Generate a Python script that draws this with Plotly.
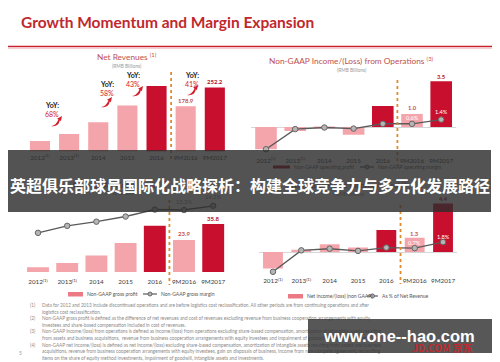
import plotly.graph_objects as go

W, H = 500, 362
def X(p): return p / W
def Y(p): return 1 - p / H

# ---------------- data ----------------
categories = ["2012", "2013", "2014", "2015", "2016", "9M2016", "9M2017"]
tick_labels = ["2012<sup>(1)</sup>", "2013<sup>(1)</sup>", "2014", "2015", "2016", "9M2016", "9M2017"]
highlight = ["2016", "9M2017"]

net_revenues = [41.4, 69.3, 114.9, 181.0, 258.3, 178.9, 252.2]
yoy_growth = ["68%", "58%", "43%", "41%"]

op_income = [-1.7, -0.3, -0.1, -0.6, 1.6, 1.0, 3.5]
op_margin = [-4.2, -0.4, -0.1, -0.3, 0.6, 0.6, 1.4]

gross_profit = [3.5, 6.8, 12.4, 21.6, 34.6, 23.9, 35.8]
gross_margin = [8.4, 9.9, 10.8, 11.9, 13.4, 13.3, 14.2]

net_income = [-1.5, 0.2, 0.7, 0.4, 2.0, 1.3, 4.4]
net_margin = [-3.6, 0.3, 0.6, 0.2, 0.8, 0.7, 1.8]

footnotes = [
    ("(1)", "Data for 2012 and 2013 include discontinued operations and are before logistics cost reclassification. All other periods are from continuing operations and after"),
    ("", "logistics cost reclassification."),
    ("(2)", "Non-GAAP gross profit is defined as the difference of net revenues and cost of revenues excluding revenue from business cooperation arrangements with equity"),
    ("", "investees and share-based compensation included in cost of revenues."),
    ("(3)", "Non-GAAP income/(loss) from operations is defined as income/(loss) from operations excluding share-based compensation, amortization of intangible assets resulting"),
    ("", "from assets and business acquisitions,  revenue from business cooperation arrangements with equity investees and impairment of goodwill and intangible assets."),
    ("(4)", "Non-GAAP net income/(loss) is defined as net income/(loss) excluding share-based compensation, amortization of intangible assets resulting from assets and business"),
    ("", "acquisitions, revenue from business cooperation arrangements with equity investees, gain on disposals of business, income from non-compete agreement, reconciling"),
    ("", "items on the share of equity method investments, impairment of goodwill, intangible assets and investments."),
]

banner_text = "英超俱乐部球员国际化战略探析：构建全球竞争力与多元化发展路径"
watermark_text = "www.one--hao.com"

# ---------------- styles ----------------
PINK = "#f4a4ab"
RED = "#c8102e"
LBL_RED = "#c0504d"
FONT = "Lato"

def fmt(v):
    return f"({abs(v):.1f})" if v < 0 else f"{v:.1f}"
def fmtp(v):
    return f"({abs(v):.1f})%" if v < 0 else f"{v:.1f}%"

def bar_colors():
    return [RED if c in highlight else PINK for c in categories]

def ydom(zero, s, lo, hi):
    return [Y(zero - lo * s), Y(zero - hi * s)]

def xax(x0, x1, anchor, standoff):
    return dict(domain=[X(x0), X(x1)], range=[-0.5, 6.5], type="category",
                categoryorder="array", categoryarray=categories,
                tickmode="array", tickvals=categories, ticktext=tick_labels,
                showgrid=False, zeroline=False, showline=False, ticks="",
                tickfont=dict(size=6.3, color="#3c3c3c", family=FONT),
                anchor=anchor, ticklabelstandoff=standoff, fixedrange=True)

def yax(dom, rng, anchor, zl=False):
    return dict(domain=dom, range=rng, showgrid=False, showticklabels=False, ticks="",
                showline=False, zeroline=zl, zerolinecolor="#d6d6d6", zerolinewidth=1,
                anchor=anchor, fixedrange=True)

TL = dict(zero=151.5, s=0.2536, lo=0, hi=300)
TR = dict(zero=127, s=13.1, lo=-2, hi=4, s2=5.3)
BL = dict(zero=272, s=1.34, lo=0, hi=55, s2=4.66)
BR = dict(zero=252, s=11.0, lo=-2, hi=5, s2=5.5)

layout = dict(
    width=W, height=H, margin=dict(l=0, r=0, t=0, b=0),
    paper_bgcolor="white", plot_bgcolor="rgba(0,0,0,0)", showlegend=False,
    font=dict(family=FONT),
    xaxis=xax(25.4, 229.4, "y", 1),
    yaxis=yax(ydom(TL["zero"], TL["s"], TL["lo"], TL["hi"]), [TL["lo"], TL["hi"]], "x"),
    xaxis2=xax(251.4, 455.8, "y2", 2),
    yaxis2=yax(ydom(TR["zero"], TR["s"], TR["lo"], TR["hi"]), [TR["lo"], TR["hi"]], "x2", True),
    xaxis3=xax(23.4, 227.8, "y3", 5),
    yaxis3=yax(ydom(BL["zero"], BL["s"], BL["lo"], BL["hi"]), [BL["lo"], BL["hi"]], "x3"),
    xaxis4=xax(258.8, 457.2, "y4", 2),
    yaxis4=yax(ydom(BR["zero"], BR["s"], BR["lo"], BR["hi"]), [BR["lo"], BR["hi"]], "x4", True),
    yaxis5=dict(overlaying="y2", anchor="x2", visible=False, fixedrange=True,
                range=[TR["lo"] * TR["s"] / TR["s2"], TR["hi"] * TR["s"] / TR["s2"]]),
    yaxis6=dict(overlaying="y3", anchor="x3", visible=False, fixedrange=True,
                range=[BL["lo"] * BL["s"] / BL["s2"], BL["hi"] * BL["s"] / BL["s2"]]),
    yaxis7=dict(overlaying="y4", anchor="x4", visible=False, fixedrange=True,
                range=[BR["lo"] * BR["s"] / BR["s2"], BR["hi"] * BR["s"] / BR["s2"]]),
)

fig = go.Figure(layout=layout)

def add_bar(vals, xa, ya, width):
    fig.add_trace(go.Bar(x=categories, y=vals, marker=dict(color=bar_colors(), line=dict(width=0)),
                         width=width, xaxis=xa, yaxis=ya, hoverinfo="skip"))

def add_line(vals, xa, ya):
    fig.add_trace(go.Scatter(x=categories, y=vals, mode="lines+markers", xaxis=xa, yaxis=ya,
                             line=dict(color="#5a5a5a", width=1.4),
                             marker=dict(size=5.5, color="#b5b5b5", line=dict(color="#666666", width=1)),
                             cliponaxis=False, hoverinfo="skip"))

add_bar(net_revenues, "x", "y", 0.69)
add_bar(op_income, "x2", "y2", 0.74)
add_line(op_margin, "x2", "y5")
add_bar(gross_profit, "x3", "y3", 0.75)
add_line(gross_margin, "x3", "y6")
add_bar(net_income, "x4", "y4", 0.7)
add_line(net_margin, "x4", "y7")

annotations = []
shapes = []

def text_px(x, y, text, size=6, color="#444", xanchor="center", family=FONT, bold=False):
    annotations.append(dict(x=X(x), y=Y(y), xref="paper", yref="paper",
                            text=f"<b>{text}</b>" if bold else text, showarrow=False,
                            xanchor=xanchor, yanchor="middle",
                            font=dict(size=size, color=color, family=family)))

def text_data(xa, ya, x, y, text, shift, size, color, bold=False):
    annotations.append(dict(x=x, y=y, xref=xa, yref=ya, yshift=shift, showarrow=False,
                            text=f"<b>{text}</b>" if bold else text,
                            xanchor="center", yanchor="middle",
                            font=dict(size=size, color=color, family=FONT)))

def line_px(x0, y0, x1, y1, color, width, dash="solid"):
    shapes.append(dict(type="line", xref="paper", yref="paper", x0=X(x0), y0=Y(y0), x1=X(x1), y1=Y(y1),
                       line=dict(color=color, width=width, dash=dash), layer="above"))

def rect_px(x0, y0, x1, y1, color):
    shapes.append(dict(type="rect", xref="paper", yref="paper", x0=X(x0), y0=Y(y0), x1=X(x1), y1=Y(y1),
                       fillcolor=color, line=dict(width=0), layer="above"))

def circle_px(cx, cy, r, fill, edge):
    shapes.append(dict(type="circle", xref="paper", yref="paper", x0=X(cx - r), y0=Y(cy + r),
                       x1=X(cx + r), y1=Y(cy - r), fillcolor=fill, line=dict(color=edge, width=1),
                       layer="above"))

def swoosh(cx, cy):
    p = lambda dx, dy: f"{X(cx + dx):.5f},{Y(cy + dy):.5f}"
    path = (f"M {p(-6, 5)} Q {p(-1, 4.5)} {p(1.5, -1.5)} L {p(0, -2.2)} L {p(5, -5)} "
            f"L {p(3.9, 0.2)} L {p(2.9, -0.7)} Q {p(1.5, 6.2)} {p(-6, 5)} Z")
    shapes.append(dict(type="path", xref="paper", yref="paper", path=path,
                       fillcolor="#d3202c", line=dict(width=0), layer="above"))

def dotted(xa, y0, y1):
    shapes.append(dict(type="line", xref=xa, yref="paper", x0=4.5, x1=4.5, y0=Y(y0), y1=Y(y1),
                       line=dict(color="#e08a2e", width=1.8, dash="dot"), layer="above"))

def legend_line(x0, x1, y):
    line_px(x0, y, x1, y, "#5a5a5a", 1.2)
    circle_px((x0 + x1) / 2, y, 2, "#b5b5b5", "#666666")

# ---------- header ----------
text_px(19, 22, "Growth Momentum and Margin Expansion", size=15.5, color="#c0282d", xanchor="left", bold=True)
line_px(8, 46.5, 492, 46.5, "#c8202e", 1.6)
line_px(8, 48.5, 492, 48.5, "#f0c0c4", 0.8)

# ---------- top-left: net revenues ----------
text_px(127, 57, "Net Revenues <sup>(1)</sup>", size=8.3, color=LBL_RED)
text_px(127, 66, "(RMB Billions)", size=4.8, color="#9a9a9a")
for c, v in zip(categories, net_revenues):
    text_data("x", "y", c, v, fmt(v), 6, 6, "#b3121f" if c in highlight else LBL_RED, bold=True)
yoy_pos = [(52, 105, 57, 121), (107, 84, 107, 102), (133, 75, 138, 91), (192, 75, 193, 90)]
for g, (tx, ty, ax, ay) in zip(yoy_growth, yoy_pos):
    text_px(tx, ty, "YoY:", size=7, color="#222", bold=True)
    text_px(tx, ty + 9, g, size=7, color="#d0202c")
    swoosh(ax, ay)
dotted("x", 72, 160)

# ---------- top-right: non-GAAP operating income ----------
text_px(351, 61, "Non-GAAP Income/(Loss) from Operations <sup>(3)</sup>", size=8.3, color=LBL_RED)
text_px(352, 70, "(RMB Billions)", size=4.8, color="#9a9a9a")
op_val_shift = [17, -9, -11, -8, 5, 6, 5]
op_val_color = ["#ffffff", LBL_RED, LBL_RED, LBL_RED, "#b3121f", LBL_RED, "#b3121f"]
op_pct_shift = [6, -5, -5, -7, 6, 6, 8]
op_pct_color = ["#ffffff", "#666", "#666", "#666", "#ffffff", "#ffffff", "#ffffff"]
for i, c in enumerate(categories):
    text_data("x2", "y2", c, op_income[i], fmt(op_income[i]), op_val_shift[i], 5.8, op_val_color[i], bold=True)
    text_data("x2", "y5", c, op_margin[i], fmtp(op_margin[i]), op_pct_shift[i], 5.6, op_pct_color[i])
dotted("x2", 80, 166)
line_px(273, 167, 290, 167, "#a0101c", 3)
text_px(292, 167, "Non-GAAP operating profit", size=5, color="#555", xanchor="left")
legend_line(360, 374, 167)
text_px(376, 167, "Non-GAAP operating margin", size=5, color="#555", xanchor="left")

# ---------- bottom-left: non-GAAP gross profit ----------
text_px(120, 184, "Non-GAAP Gross Profit <sup>(2)</sup>", size=8.3, color=LBL_RED)
text_px(120, 193, "(RMB Billions)", size=4.8, color="#9a9a9a")
for i, c in enumerate(categories):
    text_data("x3", "y3", c, gross_profit[i], fmt(gross_profit[i]), 6, 6,
              "#b3121f" if c in highlight else LBL_RED, bold=True)
    text_data("x3", "y6", c, gross_margin[i], fmtp(gross_margin[i]), 9, 5.8, "#8a8a8a")
dotted("x3", 200, 285)
rect_px(68, 292, 83, 296.5, "#ec7a85")
text_px(85, 294, "Non-GAAP gross profit", size=5, color="#555", xanchor="left")
legend_line(143, 157, 294)
text_px(159, 294, "Non-GAAP gross margin", size=5, color="#555", xanchor="left")

# ---------- bottom-right: non-GAAP net income ----------
text_px(350, 184, "Non-GAAP Net Income/(Loss) <sup>(4)</sup>", size=8.3, color=LBL_RED)
text_px(350, 194, "(RMB Billions)", size=4.8, color="#9a9a9a")
ni_val_shift = [11.5, 16, 10, 11, 5, 4, 5]
ni_val_color = ["#ffffff", LBL_RED, LBL_RED, LBL_RED, "#b3121f", LBL_RED, "#b3121f"]
ni_pct_shift = [9, 11, 8, 8, 7, 6, 6]
ni_pct_color = ["#ffffff", "#8a8a8a", "#8a8a8a", "#8a8a8a", "#ffffff", "#ffffff", "#ffffff"]
for i, c in enumerate(categories):
    text_data("x4", "y4", c, net_income[i], fmt(net_income[i]), ni_val_shift[i], 5.8, ni_val_color[i], bold=True)
    text_data("x4", "y7", c, net_margin[i], fmtp(net_margin[i]), ni_pct_shift[i], 5.6, ni_pct_color[i])
dotted("x4", 205, 284)
rect_px(288, 294, 303, 298.5, "#ec7a85")
text_px(305, 296, "Net income/(loss) (non GAAP)", size=5, color="#555", xanchor="left")
legend_line(367, 378, 296)
text_px(380, 296, "As % of Net Revenue", size=5, color="#555", xanchor="left")

# ---------- footnotes ----------
for k, (num, line) in enumerate(footnotes):
    yy = 305 + k * 6.6
    if num:
        text_px(28, yy, num, size=4.7, color="#8a8a8a", xanchor="left")
    text_px(40, yy, line, size=4.7, color="#8a8a8a", xanchor="left")
text_px(20, 353, "5", size=5, color="#9a9a9a")

# ---------- overlays (drawn last so they cover content) ----------
def box_px(x0, y0, x1, y1, color):
    annotations.append(dict(x=X(x0), y=Y(y0), xref="paper", yref="paper", xanchor="left", yanchor="top",
                            width=x1 - x0, height=y1 - y0, text=" ", showarrow=False,
                            bgcolor=color, borderpad=0, borderwidth=0))

box_px(8, 150, 491, 212, "rgba(45,45,45,0.82)")
text_px(250, 185, banner_text, size=16, color="#ffffff", family="Noto Sans CJK SC", bold=True)

box_px(308, 319, 492, 353, "rgba(50,50,50,0.82)")
text_px(399, 336, watermark_text, size=16.5, color="#ffffff", family="Liberation Sans", bold=True)
text_px(442, 347, "JD.COM 京东", size=10, color="#c0282d", family="Noto Sans CJK SC", bold=True)

fig.update_layout(annotations=annotations, shapes=shapes)
fig.write_html("out.html", config={"displayModeBar": False},
               post_script="document.body.style.margin='0';document.body.style.overflow='hidden';")
